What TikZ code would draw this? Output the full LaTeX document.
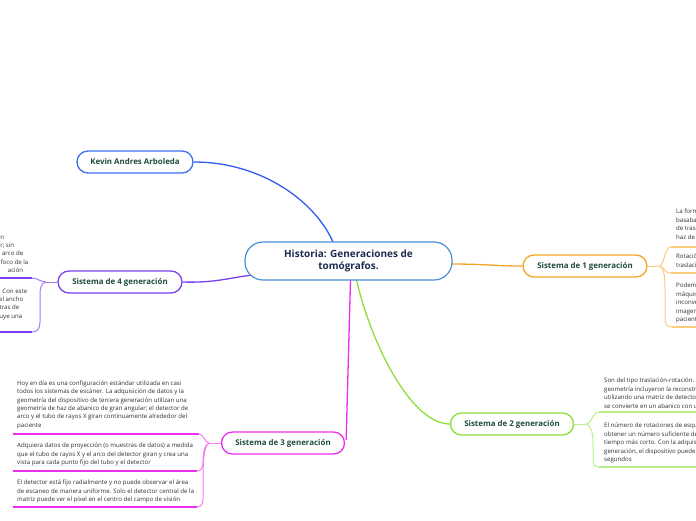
\documentclass[tikz,border=0pt]{standalone}
\usepackage{fontspec}
\setmainfont{Open Sans}
\usetikzlibrary{calc,backgrounds}
\definecolor{kblue}{HTML}{3D6FF0}
\definecolor{kline}{HTML}{2F5CF0}
\definecolor{cblue}{HTML}{4A90D9}
\definecolor{vio}{HTML}{7B3FF2}
\definecolor{viol}{HTML}{A57BF7}
\definecolor{ora}{HTML}{F5A524}
\definecolor{oral}{HTML}{FCCB80}
\definecolor{lim}{HTML}{8BE03A}
\definecolor{liml}{HTML}{B9F08A}
\definecolor{mag}{HTML}{EE2EEE}
\definecolor{magl}{HTML}{F47CF4}
\definecolor{labgreen}{HTML}{1E4D3B}
\definecolor{navy}{HTML}{1C2B4F}
\definecolor{bodygray}{HTML}{2E2E2E}
\begin{document}
\begin{tikzpicture}[x=1pt,y=-1pt,
  topic/.style={draw, fill=white, rounded corners=11pt, line width=1.3pt,
    minimum height=22pt, minimum width=123pt, inner xsep=0pt,
    font=\fontsize{7.9}{9.5}\selectfont\bfseries, text=labgreen},
  body/.style={font=\fontsize{6.1}{8.4}\selectfont, text=bodygray,
    align=left, inner sep=0pt, anchor=north west},
  conn/.style={line width=1.3pt},
  brk/.style={line width=1pt},
  uline/.style={line width=1.6pt}]
\useasboundingbox (0,0) rectangle (696,520);
\clip (0,0) rectangle (696,520);

% main nodes
\node[draw=cblue, fill=white, rounded corners=18pt, line width=1.2pt,
  minimum width=207pt, minimum height=38pt, align=center,
  font=\fontsize{10}{12.5}\selectfont\bfseries, text=navy] (main) at (348.5,261)
  {Historia: Generaciones de\\tomógrafos.};
\node[topic, draw=kblue, minimum width=116pt] (kevin) at (135,162) {Kevin Andres Arboleda};
\node[topic, draw=vio, minimum width=124pt] (s4) at (120,282) {Sistema de 4 generación};
\node[topic, draw=ora, minimum width=124pt] (s1) at (585,266) {Sistema de 1 generación};
\node[topic, draw=lim] (s2) at (512,424) {Sistema de 2 generación};
\node[topic, draw=mag] (s3) at (283,443) {Sistema de 3 generación};

% text blocks
\node[body] (t4a) at (0,235.5) {\makebox[4pt][r]{n}\\\makebox[14pt][r]{r; sin}\\\makebox[23pt][r]{arco de}\\\makebox[28pt][r]{foco de la}\\\makebox[23pt][r]{ación}};
\node[body] (t4b) at (0,288.5) {\makebox[27pt][r]{Con este}\\\makebox[23pt][r]{el ancho}\\\makebox[19pt][r]{tras de}\\\makebox[22pt][r]{uye una}};

\node[body] (t1a) at (676,209) {La forma\\basaban\\de traslación\\haz de};
\node[body] (t1b) at (676,254) {Rotación\\traslación};
\node[body] (t1c) at (676,283) {Podemos\\máquinas\\inconvenientes\\imagen\\paciente};

\node[body] (t2a) at (604,378) {Son del tipo traslación-rotación. Los\\geometría incluyeron la reconstrucción\\utilizando una matriz de detectores\\se convierte en un abanico con un};
\node[body] (t2b) at (604,423) {El número de rotaciones de esquinas\\obtener un número suficiente de\\tiempo más corto. Con la adquisición\\generación, el dispositivo puede\\segundos};

\node[body] (t3a) at (17,380.5) {Hoy en día es una configuración estándar utilizada en casi\\todos los sistemas de escáner. La adquisición de datos y la\\geometría del dispositivo de tercera generación utilizan una\\geometría de haz de abanico de gran angular; el detector de\\arco y el tubo de rayos X giran continuamente alrededor del\\paciente};
\node[body] (t3b) at (17,443) {Adquiera datos de proyección (o muestras de datos) a medida\\que el tubo de rayos X y el arco del detector giran y crea una\\vista para cada punto fijo del tubo y el detector};
\node[body] (t3c) at (17,480) {El detector está fijo radialmente y no puede observar el área\\de escaneo de manera uniforme. Solo el detector central de la\\matriz puede ver el píxel en el centro del campo de visión};

% junctions and underline ends
\coordinate (j4) at (46,282);
\coordinate (u4a) at (0,278);
\coordinate (u4b) at (0,332);
\coordinate (j1) at (659,266);
\coordinate (u1a) at (696,247);
\coordinate (u1b) at (696,273);
\coordinate (u1c) at (696,327);
\coordinate (j2) at (586,424);
\coordinate (u2a) at (696,412);
\coordinate (u2b) at (696,467);
\coordinate (j3) at (209,443);
\coordinate (u3a) at (13,434);
\coordinate (u3b) at (13,471);
\coordinate (u3c) at (13,507);

\begin{scope}[on background layer]
% main connectors
\draw[conn, kline] (kevin.east) .. controls (265,162) and (318,205) .. ($(main.north)+(-15,2)$);
\draw[conn, vio] (s4.east) .. controls (215,283) and (228,278) .. ($(main.west)+(8,14)$);
\draw[conn, ora] ($(main.east)+(-2,3)$) .. controls (485,264) and (495,266) .. (s1.west);
\draw[conn, lim] ($(main.south)+(8,-1)$) .. controls (370,340) and (410,424) .. (s2.west);
\draw[conn, mag] ($(main.south)+(2,-1)$) -- ($(s3.east)+(1,-3)$);

% brackets s4
\draw[brk, viol] (s4.west) -- (j4);
\draw[brk, viol] (j4) .. controls (40,282) and (38,278) .. (32,278);
\draw[uline, vio] (32,278) -- (u4a);
\draw[brk, viol] (j4) .. controls (40,283) and (40,290) .. (40,298) -- (40,322) .. controls (40,329) and (37,332) .. (32,332);
\draw[uline, vio] (32,332) -- (u4b);

% brackets s1
\draw[brk, oral] (s1.east) -- (j1);
\draw[brk, oral] (j1) .. controls (665,265) and (664,247) .. (671,247);
\draw[uline, oral] (671,247) -- (u1a);
\draw[brk, oral] (j1) .. controls (665,267) and (664,273) .. (671,273);
\draw[uline, oral] (671,273) -- (u1b);
\draw[brk, oral] (j1) .. controls (665,268) and (665,280) .. (665,292) -- (665,318) .. controls (665,325) and (667,327) .. (672,327);
\draw[uline, oral] (672,327) -- (u1c);

% brackets s2
\draw[brk, liml] (s2.east) -- (j2);
\draw[brk, liml] (j2) .. controls (593,423) and (592,412) .. (599,412);
\draw[uline, liml] (599,412) -- (u2a);
\draw[brk, liml] (j2) .. controls (592,425) and (593,435) .. (593,445) -- (593,460) .. controls (593,465) and (595,467) .. (599,467);
\draw[uline, liml] (599,467) -- (u2b);

% brackets s3
\draw[brk, magl] (s3.west) -- (j3);
\draw[brk, magl] (j3) .. controls (204,442) and (204,434) .. (199,434);
\draw[uline, mag] (199,434) -- (u3a);
\draw[brk, magl] (j3) .. controls (204,445) and (203,455) .. (203,462) .. controls (203,468) and (201,471) .. (197,471);
\draw[uline, mag] (197,471) -- (u3b);
\draw[brk, magl] (j3) .. controls (204,446) and (203,460) .. (203,480) -- (203,499) .. controls (203,504) and (201,507) .. (197,507);
\draw[uline, mag] (197,507) -- (u3c);
\end{scope}
\end{tikzpicture}
\end{document}
